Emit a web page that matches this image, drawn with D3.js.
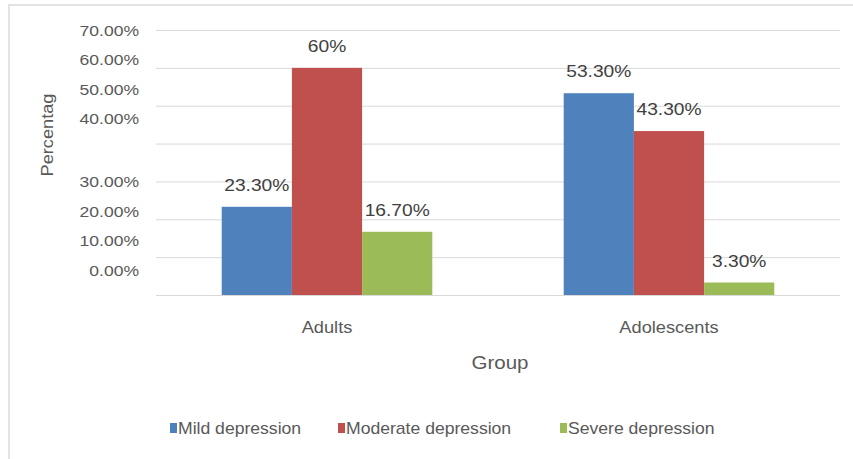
<!DOCTYPE html>
<html>
<head>
<meta charset="utf-8">
<script src="https://cdn.jsdelivr.net/npm/d3@7"></script>
<style>
  html, body { margin: 0; padding: 0; background: #fff; }
  svg { display: block; font-family: "Liberation Sans", Arial, sans-serif; }
</style>
</head>
<body>
<svg id="chart" width="853" height="459"></svg>
<script>
// Depression severity by group
const groups = ["Adults", "Adolescents"];
const seriesNames = ["Mild depression", "Moderate depression", "Severe depression"];
const mildValues = [23.3, 53.3];
const moderateValues = [60, 43.3];
const severeValues = [16.7, 3.3];
const mildLabels = ["23.30%", "53.30%"];
const moderateLabels = ["60%", "43.30%"];
const severeLabels = ["16.70%", "3.30%"];
const yTickValues = [0, 10, 20, 30, 40, 50, 60, 70];
const yTickLabels = ["0.00%", "10.00%", "20.00%", "30.00%", "40.00%", "50.00%", "60.00%", "70.00%"];
const seriesColors = ["#4f81bd", "#c0504d", "#9bbb59"];

const series = [
  { name: seriesNames[0], values: mildValues, labels: mildLabels, color: seriesColors[0] },
  { name: seriesNames[1], values: moderateValues, labels: moderateLabels, color: seriesColors[1] },
  { name: seriesNames[2], values: severeValues, labels: severeLabels, color: seriesColors[2] }
];

// text in this chart is set slightly wide
const WIDE = 1.14;
function place(sel, fx, fy, k = WIDE) {
  sel.attr("x", null).attr("y", null)
    .attr("transform", (d, i) => `translate(${fx(d, i)},${fy(d, i)}) scale(${k},1)`);
}

const svg = d3.select("#chart");
const plot = { left: 156, right: 840, top: 30, bottom: 295 };

// chart frame
svg.append("path")
  .attr("d", `M9,459 V5 H853`)
  .attr("fill", "none")
  .attr("stroke", "#e3e3e3")
  .attr("stroke-width", 2);

const y = d3.scaleLinear().domain([0, 70]).range([plot.bottom, plot.top]);
const x0 = d3.scaleBand().domain(groups).range([plot.left, plot.right]).padding(0);
const x1 = d3.scaleBand().domain(seriesNames).range([0, x0.bandwidth()])
  .paddingInner(0).paddingOuter(0.936);

// y axis with gridlines
const yAxis = d3.axisLeft(y)
  .tickValues(yTickValues)
  .tickSize(-(plot.right - plot.left))
  .tickFormat((d, i) => yTickLabels[i]);

const gy = svg.append("g")
  .attr("transform", `translate(${plot.left},0)`)
  .call(yAxis);
gy.select(".domain").remove();
gy.selectAll(".tick line").attr("stroke", "#d9d9d9").attr("stroke-width", 1);
// labels are stacked in two blocks of four, packed tighter than the grid
const tickText = gy.selectAll(".tick text")
  .attr("dy", "0.35em")
  .attr("fill", "#595959")
  .style("font-size", "15px")
  .style("font-family", "'Liberation Sans', Arial, sans-serif");
place(tickText, () => -17, d => -8.3 * (((70 - d) / 10) % 4), 1.17);

// bars
const gGroups = svg.append("g").selectAll("g")
  .data(groups)
  .join("g")
  .attr("transform", d => `translate(${x0(d)},0)`);

const cells = (g, gi) => series.map(s => ({ s, v: s.values[gi], label: s.labels[gi] }));

gGroups.selectAll("rect")
  .data(cells)
  .join("rect")
  .attr("x", d => x1(d.s.name))
  .attr("width", x1.bandwidth())
  .attr("y", d => y(d.v))
  .attr("height", d => y(0) - y(d.v))
  .attr("fill", d => d.s.color);

const vlabels = gGroups.selectAll("text.vlabel")
  .data(cells)
  .join("text")
  .attr("class", "vlabel")
  .attr("text-anchor", "middle")
  .attr("fill", "#404040")
  .style("font-size", "16px")
  .text(d => d.label);
place(vlabels, d => x1(d.s.name) + x1.bandwidth() / 2, d => y(d.v) - 16, 1.2);

// category labels
const cats = svg.append("g").selectAll("text")
  .data(groups)
  .join("text")
  .attr("text-anchor", "middle")
  .attr("fill", "#595959")
  .style("font-size", "16px")
  .text(d => d);
place(cats, d => x0(d) + x0.bandwidth() / 2, () => 333);

// axis titles
const xTitle = svg.append("text")
  .datum("Group")
  .attr("text-anchor", "middle")
  .attr("fill", "#595959")
  .style("font-size", "18px")
  .text(d => d);
place(xTitle, () => 500, () => 369);

svg.append("text")
  .attr("transform", "translate(53,135) rotate(-90) scale(1.07,1)")
  .attr("text-anchor", "middle")
  .attr("fill", "#595959")
  .style("font-size", "17px")
  .text("Percentag");

// legend
const legendX = [170, 338, 560];
const legend = svg.append("g").selectAll("g")
  .data(series)
  .join("g")
  .attr("transform", (d, i) => `translate(${legendX[i]},428)`);
legend.append("rect")
  .attr("x", 0).attr("y", -5)
  .attr("width", 7).attr("height", 10)
  .attr("fill", d => d.color);
const legendText = legend.append("text")
  .attr("fill", "#595959")
  .style("font-size", "16px")
  .text(d => d.name);
place(legendText, () => 8, () => 6, 1.1);
</script>
</body>
</html>
